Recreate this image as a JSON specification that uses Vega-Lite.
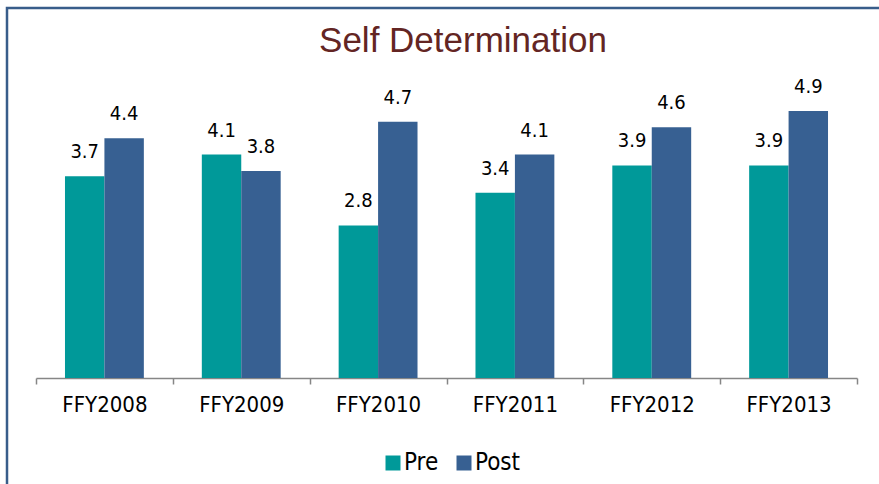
{
  "$schema": "https://vega.github.io/schema/vega-lite/v6.json",
  "autosize": "none",
  "width": 872,
  "height": 476,
  "padding": {"left": 7, "top": 8, "right": 0, "bottom": 0},
  "background": "white",
  "config": {
    "view": {"stroke": "#385D8A", "strokeWidth": 2.5, "strokeDash": [872, 1348, 476]},
    "font": "DejaVu Sans Condensed, sans-serif"
  },
  "title": {
    "text": "Self Determination",
    "orient": "top",
    "anchor": "middle",
    "frame": "group",
    "offset": 0,
    "baseline": "alphabetic",
    "dy": 79,
    "dx": 20,
    "font": "Liberation Sans, Arial, sans-serif",
    "fontSize": 35,
    "fontWeight": "normal",
    "color": "#632523"
  },
  "data": {
    "values": [
      {"year": "FFY2008", "phase": "Pre", "value": 3.7},
      {"year": "FFY2008", "phase": "Post", "value": 4.4},
      {"year": "FFY2009", "phase": "Pre", "value": 4.1},
      {"year": "FFY2009", "phase": "Post", "value": 3.8},
      {"year": "FFY2010", "phase": "Pre", "value": 2.8},
      {"year": "FFY2010", "phase": "Post", "value": 4.7},
      {"year": "FFY2011", "phase": "Pre", "value": 3.4},
      {"year": "FFY2011", "phase": "Post", "value": 4.1},
      {"year": "FFY2012", "phase": "Pre", "value": 3.9},
      {"year": "FFY2012", "phase": "Post", "value": 4.6},
      {"year": "FFY2013", "phase": "Pre", "value": 3.9},
      {"year": "FFY2013", "phase": "Post", "value": 4.9}
    ]
  },
  "encoding": {
    "x": {
      "field": "year",
      "type": "nominal",
      "sort": null,
      "scale": {"range": [29, 850], "paddingInner": 0, "paddingOuter": 0},
      "axis": {
        "title": null,
        "orient": "bottom",
        "offset": -106,
        "labelAngle": 0,
        "tickBand": "extent",
        "domainColor": "#868686",
        "domainWidth": 1.5,
        "tickColor": "#868686",
        "tickWidth": 1.5,
        "tickSize": 6,
        "labelPadding": 10,
        "labelFontSize": 22,
        "labelColor": "#000000",
        "labelFont": "DejaVu Sans Condensed, sans-serif"
      }
    },
    "xOffset": {
      "field": "phase",
      "type": "nominal",
      "sort": ["Pre", "Post"],
      "scale": {"paddingOuter": 0.735, "paddingInner": 0}
    },
    "y": {
      "field": "value",
      "type": "quantitative",
      "scale": {"domain": [0, 6], "range": [370, 43], "nice": false, "zero": true},
      "axis": null
    }
  },
  "layer": [
    {
      "mark": {"type": "bar"},
      "encoding": {
        "color": {
          "field": "phase",
          "type": "nominal",
          "sort": ["Pre", "Post"],
          "scale": {"domain": ["Pre", "Post"], "range": ["#009999", "#376092"]},
          "legend": {
            "title": null,
            "orient": "none",
            "direction": "horizontal",
            "legendX": 374,
            "legendY": 443,
            "padding": 0,
            "symbolType": "square",
            "symbolSize": 225,
            "symbolStrokeWidth": 0,
            "labelFontSize": 24,
            "labelColor": "#000000",
            "labelOffset": -1,
            "columnPadding": 13,
            "labelFont": "DejaVu Sans Condensed, sans-serif"
          }
        }
      }
    },
    {
      "mark": {
        "type": "text",
        "baseline": "alphabetic",
        "dy": -18,
        "fontSize": 20,
        "color": "#000000",
        "font": "DejaVu Sans Condensed, sans-serif"
      },
      "encoding": {
        "text": {"field": "value", "type": "quantitative", "format": ".1f"}
      }
    }
  ]
}
